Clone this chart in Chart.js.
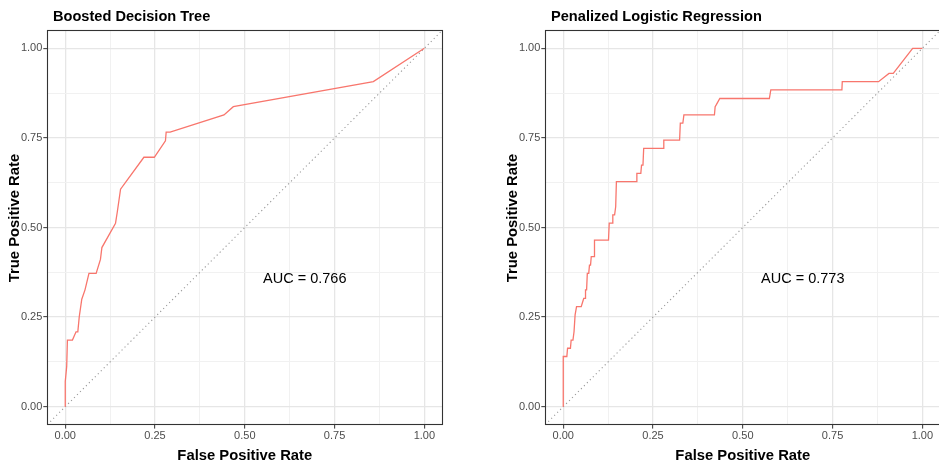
<!DOCTYPE html>
<html lang="en">
<head>
<meta charset="utf-8">
<title>ROC Curves</title>
<script src="https://cdn.jsdelivr.net/npm/chart.js@4.4.1/dist/chart.umd.min.js"></script>
<style>
  html, body { margin: 0; padding: 0; background: #fff; overflow: hidden; }
  body { width: 939px; height: 463px; position: relative; }
  .panel { position: absolute; top: 0; width: 470px; height: 463px; }
  #panel-bdt { left: 0; }
  #panel-plr { left: 498px; }
</style>
</head>
<body>
<div class="panel" id="panel-bdt"><canvas id="bdtChart"></canvas></div>
<div class="panel" id="panel-plr"><canvas id="plrChart"></canvas></div>
<script>
// Boosted decision tree ROC curve
const bdtFpr = [0, 0, 0.004, 0.006, 0.020, 0.030, 0.035, 0.039, 0.046, 0.055, 0.066, 0.086, 0.098,
  0.102, 0.140, 0.145, 0.154, 0.219, 0.248, 0.279, 0.281, 0.292, 0.442, 0.468, 0.858, 1.000];
const bdtTpr = [0, 0.070, 0.112, 0.186, 0.186, 0.209, 0.209, 0.251, 0.300, 0.326, 0.372, 0.372, 0.411,
  0.444, 0.512, 0.544, 0.607, 0.696, 0.696, 0.742, 0.766, 0.766, 0.814, 0.837, 0.907, 1.000];
const bdtAuc = 0.766;

// Penalized logistic regression ROC curve
const plrFpr = [0, 0, 0.010, 0.012, 0.020, 0.022, 0.027, 0.030, 0.031, 0.033, 0.035, 0.037, 0.050, 0.057,
  0.061, 0.062, 0.065, 0.067, 0.071, 0.073, 0.076, 0.078, 0.086, 0.087, 0.126, 0.128, 0.136, 0.138,
  0.143, 0.146, 0.148, 0.203, 0.205, 0.216, 0.218, 0.222, 0.224, 0.279, 0.280, 0.324, 0.326, 0.333,
  0.336, 0.421, 0.423, 0.426, 0.436, 0.574, 0.578, 0.776, 0.777, 0.878, 0.907, 0.919, 0.973, 1.000];
const plrTpr = [0, 0.140, 0.140, 0.163, 0.163, 0.186, 0.186, 0.209, 0.209, 0.256, 0.256, 0.279, 0.279, 0.302,
  0.302, 0.326, 0.326, 0.372, 0.372, 0.395, 0.395, 0.419, 0.419, 0.465, 0.465, 0.512, 0.512, 0.535,
  0.535, 0.558, 0.628, 0.628, 0.651, 0.651, 0.674, 0.674, 0.721, 0.721, 0.744, 0.744, 0.791, 0.791,
  0.814, 0.814, 0.837, 0.842, 0.860, 0.860, 0.884, 0.884, 0.907, 0.907, 0.930, 0.930, 1.000, 1.000];
const plrAuc = 0.773;

// axes: major + minor breaks, labels on the major ones
const gridBreaks = [0, 0.125, 0.25, 0.375, 0.5, 0.625, 0.75, 0.875, 1];
const tickLabels = ['0.00', '0.25', '0.50', '0.75', '1.00'];
const chanceLine = [-0.05, 1.05];
const aucPos = [0.667, 0.355];

const FONT = '"Liberation Sans", Arial, Helvetica, sans-serif';

// panel border, titles and AUC annotation
const decorPlugin = {
  id: 'decor',
  afterDraw(chart, args, opts) {
    const ctx = chart.ctx;
    const a = chart.chartArea;
    const sx = chart.scales.x, sy = chart.scales.y;
    ctx.save();
    ctx.strokeStyle = '#333333';
    ctx.lineWidth = 1.1;
    ctx.strokeRect(Math.round(a.left) + 0.5, Math.round(a.top) + 0.5,
      Math.round(a.right - a.left), Math.round(a.bottom - a.top));

    ctx.fillStyle = '#000';
    ctx.font = 'bold 14.6px ' + FONT;
    ctx.textAlign = 'left';
    ctx.textBaseline = 'alphabetic';
    ctx.fillText(opts.title, 53, 21);

    ctx.font = 'bold 14.8px ' + FONT;
    ctx.textAlign = 'center';
    ctx.fillText('False Positive Rate', (a.left + a.right) / 2, 460);

    ctx.save();
    ctx.translate(18.5, 218);
    ctx.rotate(-Math.PI / 2);
    ctx.fillText('True Positive Rate', 0, 0);
    ctx.restore();

    ctx.font = '14.5px ' + FONT;
    ctx.textBaseline = 'middle';
    ctx.fillText('AUC = ' + opts.auc.toFixed(3), sx.getPixelForValue(aucPos[0]), sy.getPixelForValue(aucPos[1]));
    ctx.restore();
  }
};

function makeScale(axis) {
  return {
    type: 'linear',
    min: -0.05,
    max: 1.05,
    afterBuildTicks: s => { s.ticks = gridBreaks.map(v => ({ value: v })); },
    afterFit: s => {
      if (axis === 'x') s.height = 38.4;
      else s.width = 47.3;
    },
    grid: {
      color: c => c.index % 2 === 0 ? '#e6e6e6' : '#f1f1f1',
      lineWidth: c => c.index % 2 === 0 ? 1.3 : 1,
      drawTicks: true,
      tickLength: 4,
      tickColor: c => c.index % 2 === 0 ? '#333333' : 'rgba(0,0,0,0)',
      tickWidth: 1
    },
    border: { display: false },
    ticks: {
      autoSkip: false,
      maxRotation: 0,
      padding: 1,
      color: '#4d4d4d',
      font: { family: FONT, size: 11 },
      callback: (v, i) => i % 2 === 0 ? tickLabels[i / 2] : ''
    }
  };
}

function makeRoc(id, fpr, tpr, title, auc) {
  return new Chart(document.getElementById(id), {
    type: 'scatter',
    data: {
      datasets: [
        {
          data: fpr.map((x, i) => ({ x: x, y: tpr[i] })),
          showLine: true,
          borderColor: '#F8766D',
          borderWidth: 1.3,
          pointRadius: 0,
          order: 1
        },
        {
          data: chanceLine.map(v => ({ x: v, y: v })),
          showLine: true,
          borderColor: '#9a9a9a',
          borderWidth: 1.1,
          borderDash: [1.2, 3],
          pointRadius: 0,
          order: 2
        }
      ]
    },
    options: {
      responsive: true,
      maintainAspectRatio: false,
      animation: false,
      layout: { padding: { top: 30.4, right: 27.7, left: 0, bottom: 0 } },
      scales: { x: makeScale('x'), y: makeScale('y') },
      plugins: {
        legend: { display: false },
        tooltip: { enabled: false },
        decor: { title: title, auc: auc }
      }
    },
    plugins: [decorPlugin]
  });
}

makeRoc('bdtChart', bdtFpr, bdtTpr, 'Boosted Decision Tree', bdtAuc);
makeRoc('plrChart', plrFpr, plrTpr, 'Penalized Logistic Regression', plrAuc);
</script>
</body>
</html>
